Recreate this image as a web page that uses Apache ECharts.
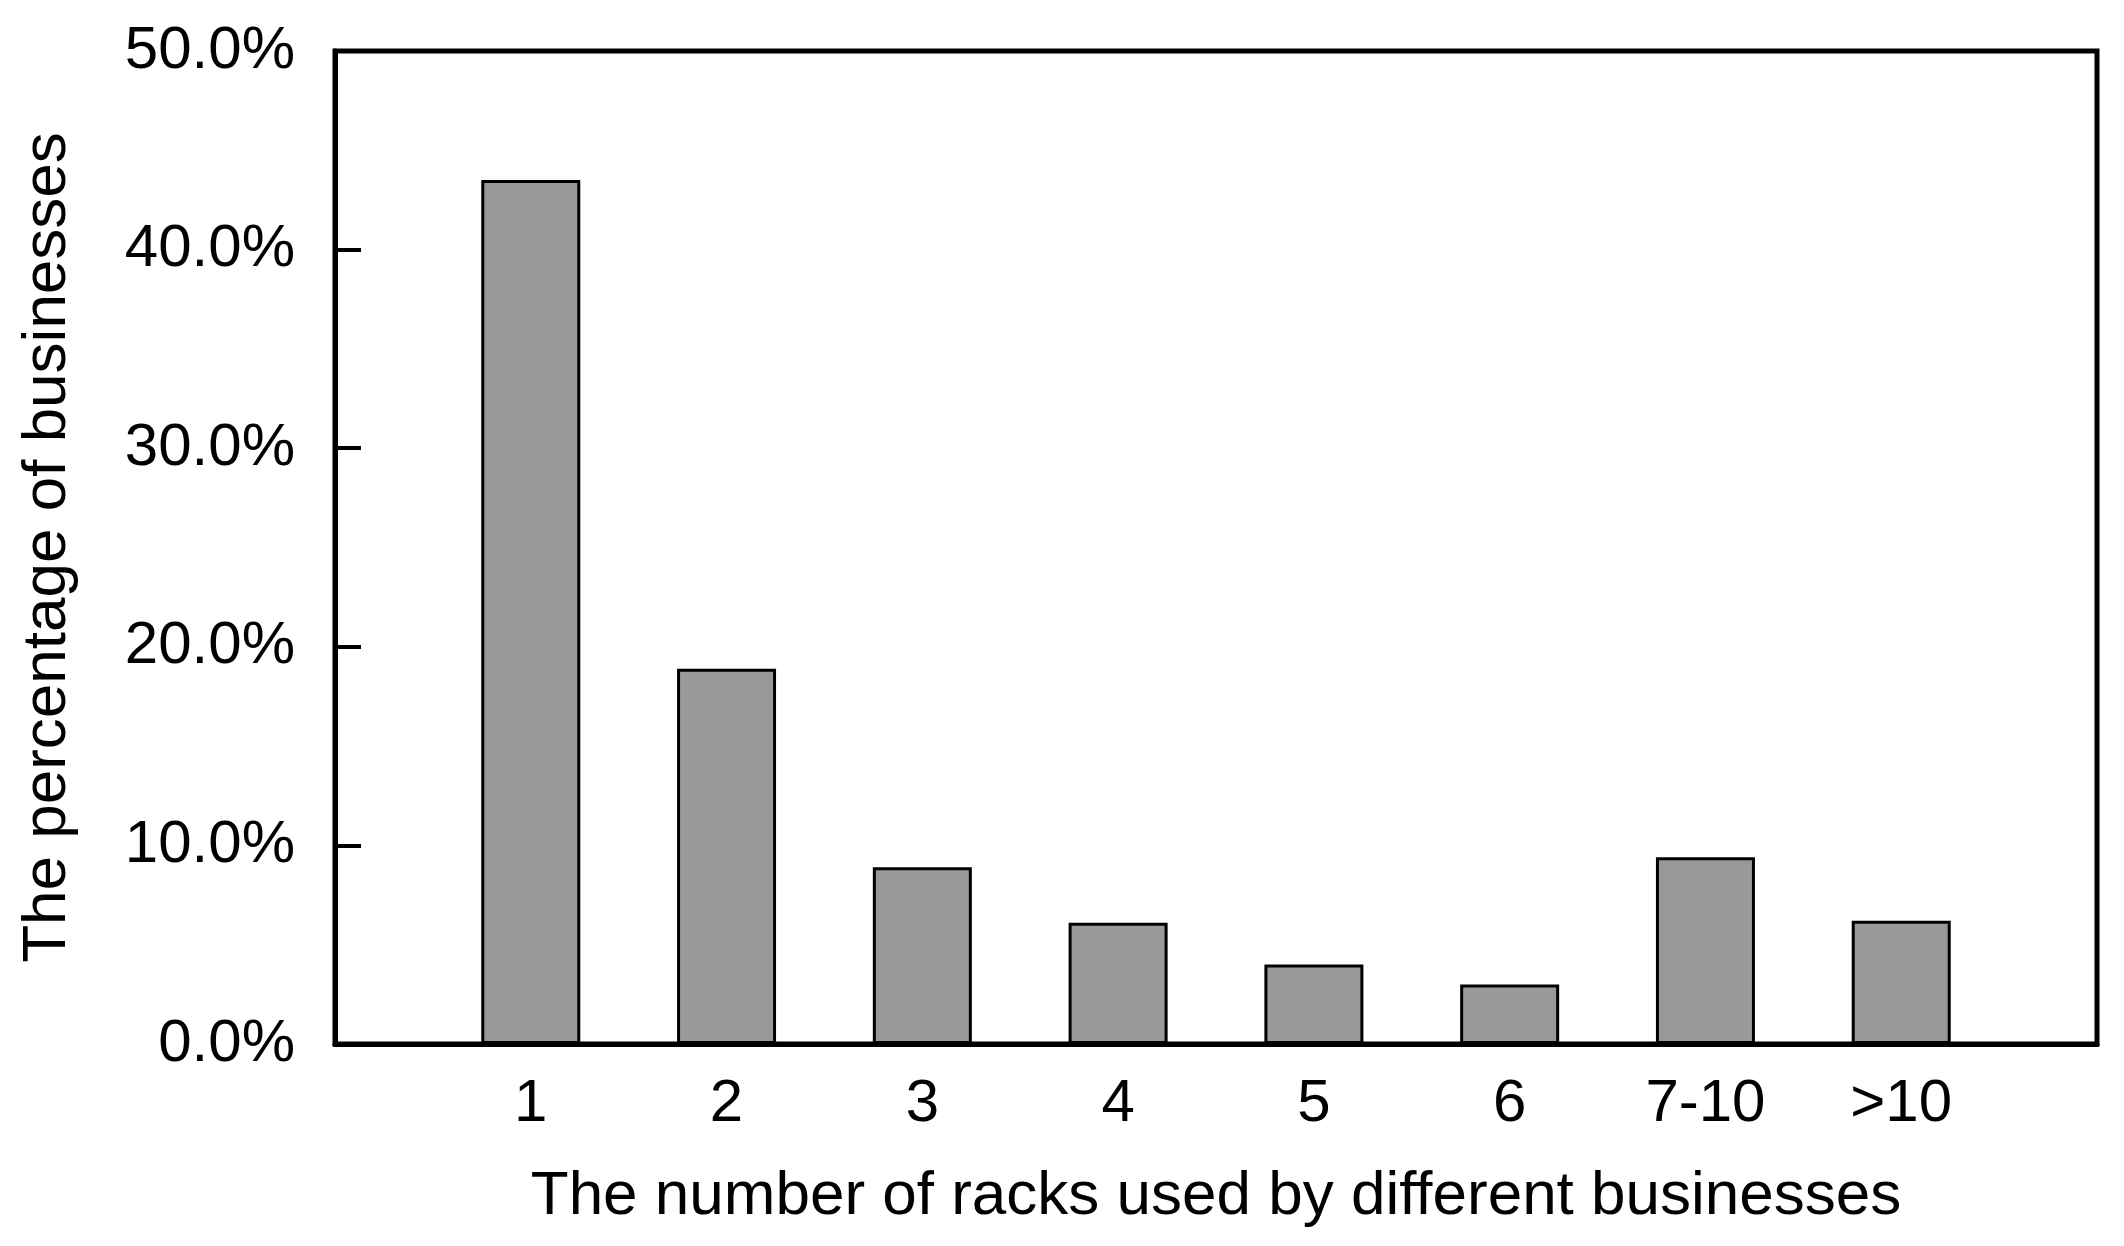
<!DOCTYPE html>
<html>
<head>
<meta charset="utf-8">
<script src="https://cdn.jsdelivr.net/npm/echarts@6/dist/echarts.min.js"></script>
<style>
  html, body { margin: 0; padding: 0; background: #fff; }
  #chart { width: 2124px; height: 1246px; }
</style>
</head>
<body>
<div id="chart"></div>
<script>
// rack count buckets and share of businesses (%)
const categories = ['1', '2', '3', '4', '5', '6', '7-10', '>10']
const percentages = [43.5, 18.9, 8.9, 6.1, 4.0, 3.0, 9.4, 6.2]
const yTicks = [0, 10, 20, 30, 40, 50]

const font = 'Liberation Sans, Arial, sans-serif'

const chart = echarts.init(document.getElementById('chart'))
const option = {
  animation: false,
  backgroundColor: '#fff',
  grid: {
    left: 335,
    right: 27,
    top: 51,
    bottom: 202,
    show: true,
    borderColor: '#000',
    borderWidth: 5,
  },
  xAxis: {
    type: 'value',
    min: 0,
    max: categories.length + 1,
    interval: 1,
    name: 'The number of racks used by different businesses',
    nameLocation: 'middle',
    nameGap: 122,
    nameTextStyle: { color: '#000', fontSize: 62, fontFamily: font },
    axisLine: { lineStyle: { color: '#000', width: 5 } },
    axisTick: { show: false },
    splitLine: { show: false },
    axisLabel: {
      color: '#000',
      fontSize: 60,
      fontFamily: font,
      margin: 30,
      formatter: (v) => categories[v - 1] || '',
    },
  },
  yAxis: {
    type: 'value',
    min: yTicks[0],
    max: yTicks[yTicks.length - 1],
    interval: 10,
    name: 'The percentage of businesses',
    nameLocation: 'middle',
    nameGap: 256,
    nameTextStyle: { color: '#000', fontSize: 62, fontFamily: font },
    axisLine: { lineStyle: { color: '#000', width: 5 } },
    axisTick: { inside: true, length: 26, lineStyle: { color: '#000', width: 4 } },
    splitLine: { show: false },
    axisLabel: {
      color: '#000',
      fontSize: 60,
      fontFamily: font,
      margin: 40,
      formatter: (v) => v.toFixed(1) + '%',
    },
  },
  series: [
    {
      type: 'bar',
      data: percentages.map((p, i) => [i + 1, p]),
      barWidth: 99,
      itemStyle: {
        color: '#999999',
        borderColor: '#000',
        borderWidth: 3,
      },
    },
  ],
}
chart.setOption(option)
</script>
</body>
</html>
